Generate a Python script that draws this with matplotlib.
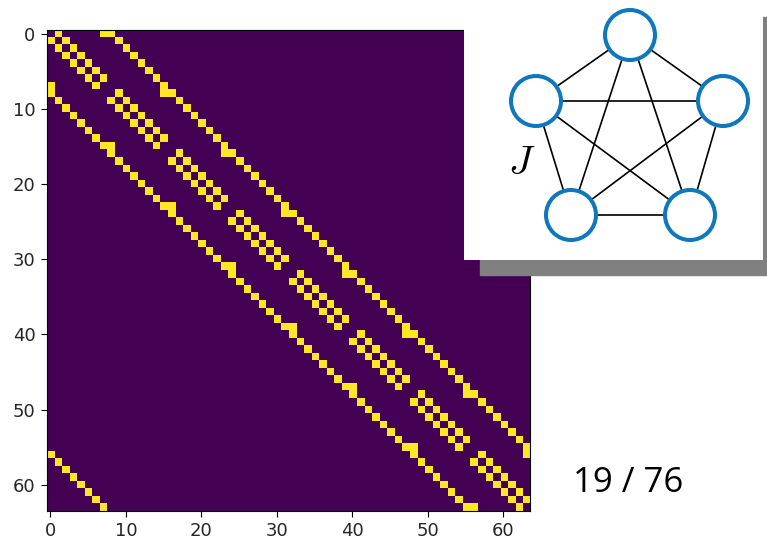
import itertools
import numpy as np
import matplotlib
matplotlib.use('Agg')
import matplotlib.pyplot as plt
from matplotlib.patches import Circle, Rectangle

# 8x8 periodic lattice, nearest-neighbour couplings
side = 8
neighbour_steps = [(0, 1), (0, -1), (1, 0), (-1, 0)]

# pentagon graph in the inset (pixel positions), fully connected
node_x = [630, 536, 723, 571, 690]
node_y = [35, 101, 101, 215, 215]
slide_label = '19 / 76'

n = side * side
J = np.zeros((n, n))
for r in range(side):
    for c in range(side):
        for dr, dc in neighbour_steps:
            J[r * side + c, ((r + dr) % side) * side + (c + dc) % side] = 1

W, H = 767, 541
fig = plt.figure(figsize=(W / 100, H / 100), dpi=100)

# main matrix plot
ax = fig.add_axes([46.7 / W, (H - 511) / H, 483 / W, 481 / H])
ax.imshow(J, cmap='viridis', interpolation='nearest', aspect='auto')
ax.set_xticks(range(0, 61, 10))
ax.set_yticks(range(0, 61, 10))
ax.tick_params(labelsize=13, length=4.5, labelcolor='#262626')

# shadow behind the inset
fig.patches.append(Rectangle((480 / W, (H - 275) / H), 300 / W, 258 / H,
                             transform=fig.transFigure, color='#808080',
                             zorder=5))

# inset with the graph, coordinates in pixels
x0, x1, y0, y1 = 464, 763, 0, 260
ins = fig.add_axes([x0 / W, (H - y1) / H, (x1 - x0) / W, (y1 - y0) / H])
ins.set_zorder(10)
ins.set_xlim(x0, x1)
ins.set_ylim(y1, y0)
ins.set_facecolor('white')
ins.set_xticks([])
ins.set_yticks([])
for s in ins.spines.values():
    s.set_visible(False)

for i, j in itertools.combinations(range(len(node_x)), 2):
    ins.plot([node_x[i], node_x[j]], [node_y[i], node_y[j]],
             color='black', lw=1.2, zorder=1)
for x, y in zip(node_x, node_y):
    ins.add_patch(Circle((x, y), 25, facecolor='white', edgecolor='#0f78bd',
                         lw=2.9, zorder=2))
ins.text(522, 163, r'$J$', fontsize=29, math_fontfamily='cm',
         ha='center', va='center')

fig.text(628 / W, (H - 483) / H, slide_label, fontsize=25,
         family='Open Sans', ha='center', va='center')

fig.savefig('out.png', dpi=100)
